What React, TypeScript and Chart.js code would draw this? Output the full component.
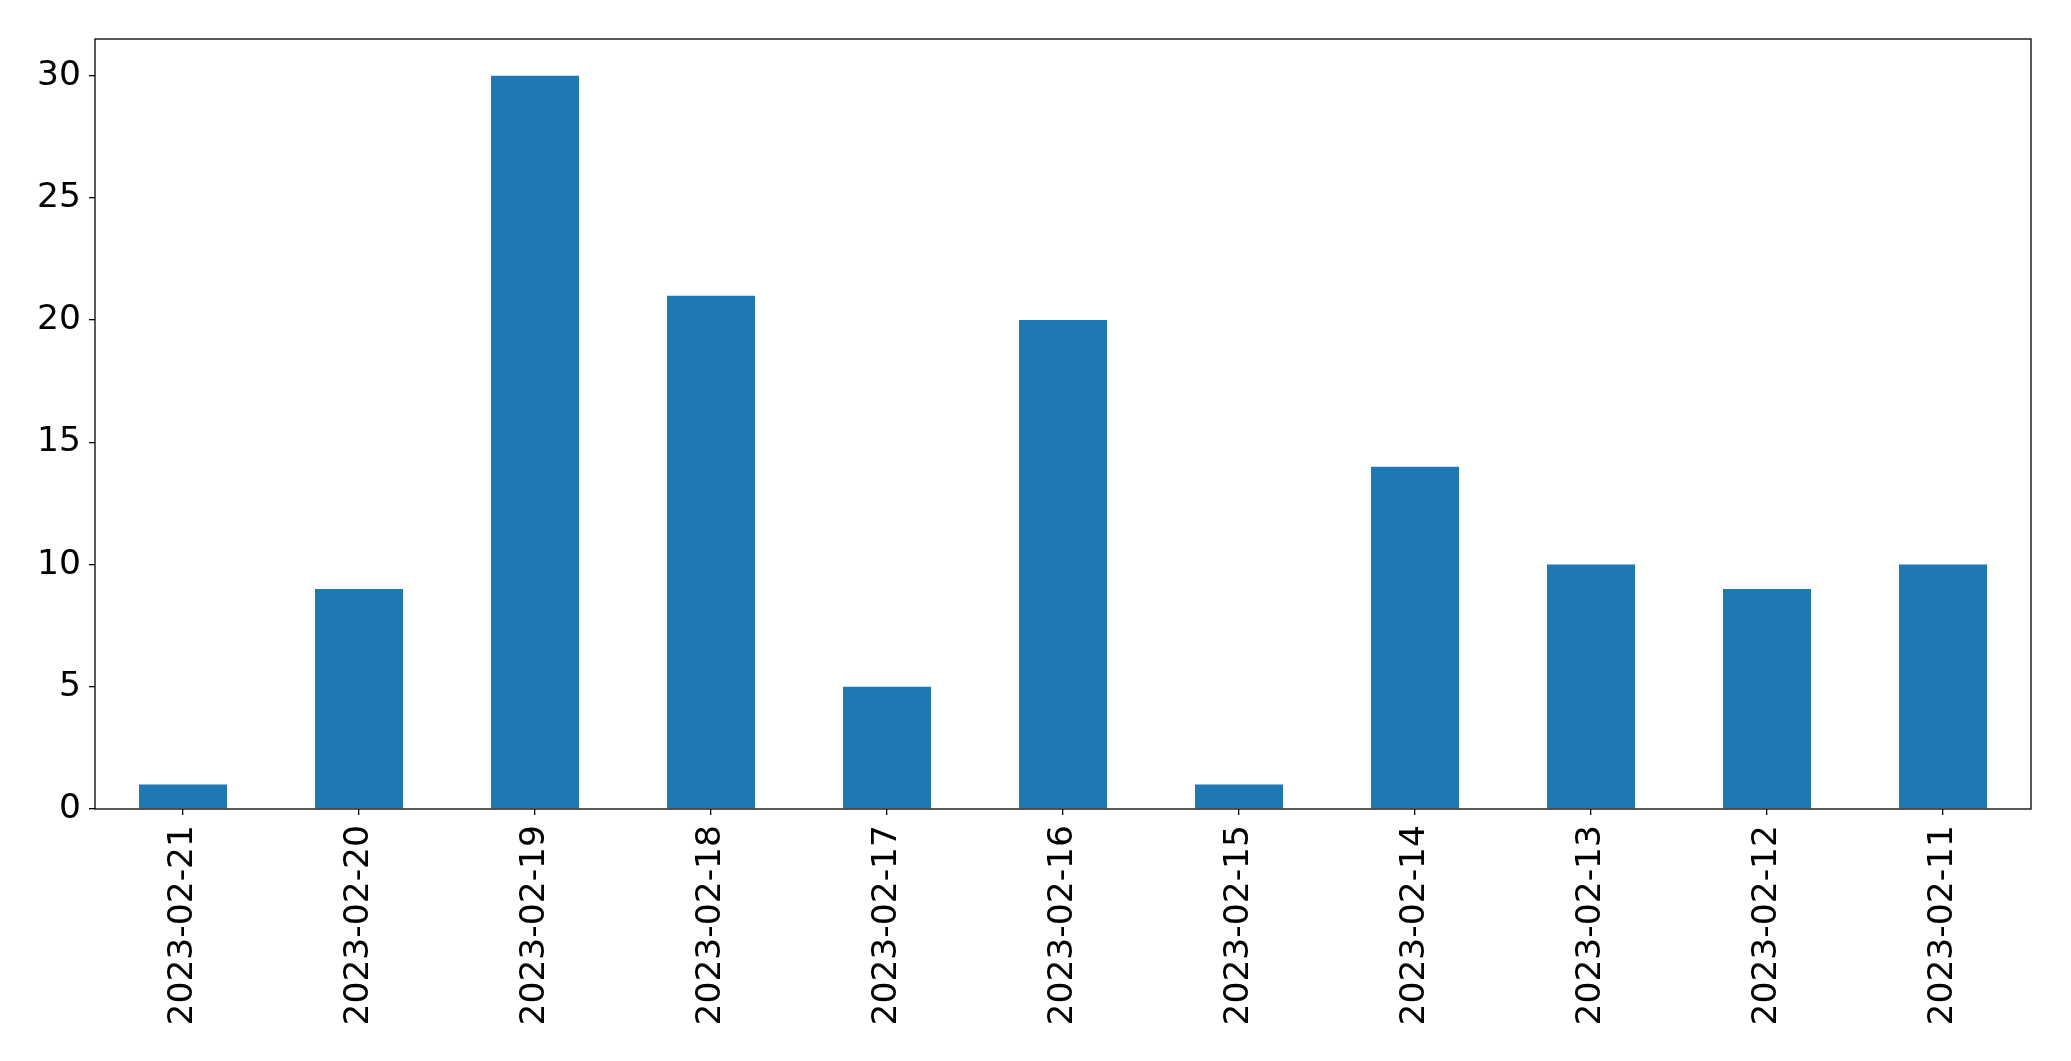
import React, { useEffect, useRef } from "react";
import { Chart, registerables } from "chart.js";

Chart.register(...registerables);

const categories = [
  "2023-02-21", "2023-02-20", "2023-02-19", "2023-02-18", "2023-02-17", "2023-02-16",
  "2023-02-15", "2023-02-14", "2023-02-13", "2023-02-12", "2023-02-11",
];
const values = [1, 9, 30, 21, 5, 20, 1, 14, 10, 9, 10];
const yTicks = [0, 5, 10, 15, 20, 25, 30];
const yMax = 31.5;

const frame = {
  id: "frame",
  afterDraw(chart: any) {
    const { ctx, chartArea } = chart;
    ctx.save();
    ctx.strokeStyle = "#000";
    ctx.lineWidth = 1.3;
    ctx.strokeRect(chartArea.left, chartArea.top, chartArea.right - chartArea.left, chartArea.bottom - chartArea.top);
    ctx.restore();
  },
};

export default function App() {
  const ref = useRef<HTMLCanvasElement>(null);
  useEffect(() => {
    document.body.style.margin = "0";
    const chart = new Chart(ref.current!, {
      type: "bar",
      data: {
        labels: categories,
        datasets: [{ data: values, backgroundColor: "#1f77b4", barPercentage: 0.5, categoryPercentage: 1 }],
      },
      options: {
        animation: false,
        responsive: false,
        devicePixelRatio: 1,
        layout: { padding: { left: 0, top: 39, right: 40, bottom: 0 } },
        plugins: { legend: { display: false }, tooltip: { enabled: false } },
        scales: {
          x: {
            offset: true,
            grid: { display: true, drawOnChartArea: false, offset: false, tickLength: 6, color: "#000", lineWidth: 1.3 },
            border: { display: false },
            ticks: {
              color: "#000",
              font: { family: "DejaVu Sans", size: 34.5 },
              minRotation: 90,
              maxRotation: 90,
              padding: 10,
              autoSkip: false,
            },
            afterFit: (s: any) => { s.height = 252; },
          },
          y: {
            min: 0,
            max: yMax,
            grid: { display: true, drawOnChartArea: false, tickLength: 6, color: "#000", lineWidth: 1.3 },
            border: { display: false },
            ticks: {
              color: "#000",
              font: { family: "DejaVu Sans", size: 34.5 },
              padding: 8,
            },
            afterBuildTicks: (s: any) => { s.ticks = yTicks.map((v) => ({ value: v })); },
            afterFit: (s: any) => { s.width = 95; },
          },
        },
      },
      plugins: [frame],
    });
    return () => chart.destroy();
  }, []);
  return (
    <div style={{ position: "absolute", left: 0, top: 0, width: 2071, height: 1061, background: "#fff" }}>
      <canvas ref={ref} width={2071} height={1061} />
    </div>
  );
}
